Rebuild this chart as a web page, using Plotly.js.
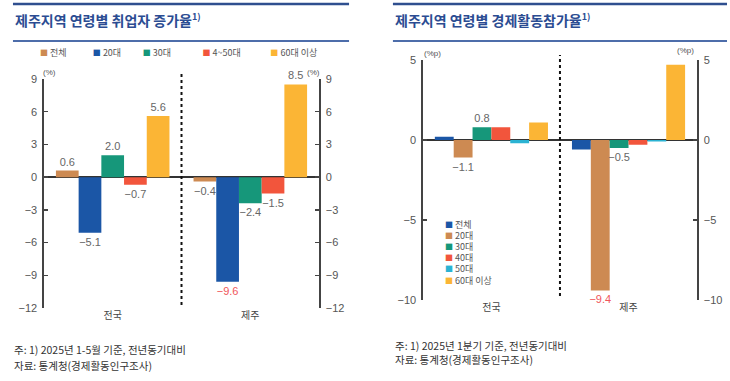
<!DOCTYPE html>
<html><head><meta charset="utf-8">
<script src="https://cdn.plot.ly/plotly-3.0.1.min.js"></script>
<style>html,body{margin:0;padding:0;background:#fff}#chart{width:730px;height:381px}</style>
</head><body><div id="chart"></div>
<script>
// ---------- data ----------
const regions = ['전국', '제주'];

// Left chart: 연령별 취업자 증가율 (%)
const empSeries = ['전체', '20대', '30대', '4~50대', '60대 이상'];
const empTotal = [0.6, -0.4];
const emp20 = [-5.1, -9.6];
const emp30 = [2.0, -2.4];
const emp4050 = [-0.7, -1.5];
const emp60 = [5.6, 8.5];
const empTicks = [-12, -9, -6, -3, 0, 3, 6, 9];

// Right chart: 연령별 경제활동참가율 변화 (%p)
const partSeries = ['전체', '20대', '30대', '40대', '50대', '60대 이상'];
const partTotal = [0.2, -0.6];
const part20 = [-1.1, -9.4];
const part30 = [0.8, -0.5];
const part40 = [0.8, -0.3];
const part50 = [-0.2, -0.1];
const part60 = [1.1, 4.7];
const partTicks = [-10, -5, 0, 5];
// bars whose value is printed in the right chart
const partShow20 = [true, true];
const partShow30 = [true, true];

// ---------- styling ----------
const W = 730, H = 381;
const px = x => x / W;
const py = y => 1 - y / H;
const C = {tan: '#CD8A52', blue: '#1B56A6', teal: '#16977A', red: '#F2553C', cyan: '#2BB3D3', amber: '#FBB535'};
const empColors = [C.tan, C.blue, C.teal, C.red, C.amber];
const partColors = [C.blue, C.tan, C.teal, C.red, C.cyan, C.amber];
const NUM = "'Liberation Sans', Arial, 'Noto Sans CJK KR', sans-serif";
const KR = "'Noto Sans CJK KR', 'Noto Sans', sans-serif";
const LABEL = '#666';
const HILITE = '#F0565A';

const fmt = v => (v < 0 ? '\u2212' : '') + Math.abs(v).toFixed(1);

function bar(name, vals, color, xa, ya, show, hilite) {
  const shown = vals.map((v, i) => show ? show[i] : true);
  return {
    type: 'bar', x: regions, y: vals, name: name, xaxis: xa, yaxis: ya,
    marker: {color: color, line: {width: 0}},
    text: vals.map(fmt),
    textposition: shown.map(s => s ? 'outside' : 'none'),
    constraintext: 'none', cliponaxis: false,
    textfont: {family: NUM, size: 11, color: vals.map((v, i) => hilite && hilite[i] ? HILITE : LABEL)},
    showlegend: false, hoverinfo: 'skip'
  };
}

const empVals = [empTotal, emp20, emp30, emp4050, emp60];
const partVals = [partTotal, part20, part30, part40, part50, part60];
const none = [false, false];
const traces = [];
empVals.forEach((v, i) => traces.push(bar(empSeries[i], v, empColors[i], 'x', 'y', null, i === 1 ? [false, true] : none)));
partVals.forEach((v, i) => {
  const show = i === 1 ? partShow20 : (i === 2 ? partShow30 : none);
  traces.push(bar(partSeries[i], v, partColors[i], 'x2', 'y2', show, i === 1 ? [false, true] : none));
});

// legend-only entries (one small legend per item, so each can be placed exactly);
// they sit on the right-hand mirror axes so those axes get drawn
const layoutLegends = {};
let li = 1;
function legendItem(name, color, xa, ya, sqX, cy) {
  const key = li === 1 ? 'legend' : 'legend' + li;
  traces.push({
    type: 'scatter', mode: 'markers', x: [null], y: [null], xaxis: xa, yaxis: ya,
    name: `<span style="color:${color};font-size:8px">■</span> ${name}`,
    marker: {size: 1, color: 'rgba(0,0,0,0)'}, legend: key, showlegend: true, hoverinfo: 'skip'
  });
  layoutLegends[key] = {
    x: px(sqX - 44), y: py(cy), xanchor: 'left', yanchor: 'middle',
    bgcolor: 'rgba(0,0,0,0)', borderwidth: 0, itemclick: false, itemdoubleclick: false,
    font: {family: KR, size: 9, color: '#555'}
  };
  li++;
}
const empLegX = [42, 95, 145, 205, 273];
empSeries.forEach((n, i) => legendItem(n, empColors[i], 'x', 'y3', empLegX[i], 52));
partSeries.forEach((n, i) => legendItem(n, partColors[i], 'x2', 'y4', 448, 224 + i * 11.2));

function yAxis(ticks, dom, extra) {
  return Object.assign({
    domain: dom, range: [ticks[0], ticks[ticks.length - 1]], tickvals: ticks,
    ticks: 'inside', ticklen: 4, tickwidth: 1.5, tickcolor: '#444',
    showline: true, linecolor: '#444', linewidth: 1.5,
    showgrid: false, zeroline: false, fixedrange: true,
    tickfont: {family: NUM, size: 11, color: '#555'}, ticklabelstandoff: 3
  }, extra);
}
function xAxis(dom, anchor) {
  return {
    domain: dom, anchor: anchor, type: 'category', showline: false, ticks: '', showgrid: false,
    zeroline: false, fixedrange: true, tickfont: {family: KR, size: 10, color: '#444'}
  };
}

const ldomX = [px(42), px(318)], ldomY = [py(308), py(79)];
const rdomX = [px(422), px(697)], rdomY = [py(300), py(60)];
const unit = (t, x, y) => ({text: t, xref: 'paper', yref: 'paper', x: px(x), y: py(y), xanchor: 'center', yanchor: 'middle', showarrow: false, font: {family: NUM, size: 8, color: '#555'}});
const note = (t, x, y) => ({text: t, xref: 'paper', yref: 'paper', x: px(x), y: py(y), xanchor: 'left', yanchor: 'middle', showarrow: false, font: {family: KR, size: 10.5, color: '#333'}});
const title = (t, x) => ({text: `<b>${t}</b><sup><b><span style="font-size:9px">1)</span></b></sup>`, xref: 'paper', yref: 'paper', x: px(x), y: py(20), xanchor: 'left', yanchor: 'middle', showarrow: false, font: {family: KR, size: 14, color: '#2B4C92'}});

const layout = Object.assign({
  width: W, height: H, margin: {l: 0, r: 0, t: 0, b: 0},
  paper_bgcolor: '#fff', plot_bgcolor: 'rgba(0,0,0,0)',
  barmode: 'group', bargap: 0.175, bargroupgap: 0,
  xaxis: xAxis(ldomX, 'y'),
  yaxis: yAxis(empTicks, ldomY, {anchor: 'x', zeroline: true, zerolinecolor: '#333', zerolinewidth: 1.5, layer: 'above traces'}),
  yaxis3: yAxis(empTicks, ldomY, {anchor: 'x', overlaying: 'y', side: 'right'}),
  xaxis2: xAxis(rdomX, 'y2'),
  yaxis2: yAxis(partTicks, rdomY, {anchor: 'x2', zeroline: true, zerolinecolor: '#333', zerolinewidth: 1.5, layer: 'above traces'}),
  yaxis4: yAxis(partTicks, rdomY, {anchor: 'x2', overlaying: 'y2', side: 'right'}),
  shapes: [
    {type: 'line', xref: 'paper', yref: 'paper', x0: px(11), x1: px(348), y0: py(4), y1: py(4), line: {color: '#2F4F8F', width: 2.5}},
    {type: 'line', xref: 'paper', yref: 'paper', x0: px(11), x1: px(348), y0: py(41), y1: py(41), line: {color: '#4D6DAA', width: 1.8}},
    {type: 'line', xref: 'paper', yref: 'paper', x0: px(392), x1: px(727), y0: py(4), y1: py(4), line: {color: '#2F4F8F', width: 2.5}},
    {type: 'line', xref: 'paper', yref: 'paper', x0: px(392), x1: px(727), y0: py(41), y1: py(41), line: {color: '#4D6DAA', width: 1.8}},
    {type: 'line', xref: 'x', yref: 'paper', x0: 0.5, x1: 0.5, y0: py(305), y1: py(72), line: {color: '#111', width: 2, dash: 'dot'}},
    {type: 'line', xref: 'x2', yref: 'paper', x0: 0.5, x1: 0.5, y0: py(296), y1: py(55), line: {color: '#111', width: 2, dash: 'dot'}}
  ],
  annotations: [
    title('제주지역 연령별 취업자 증가율', 11),
    title('제주지역 연령별 경제활동참가율', 392),
    unit('(%)', 48, 73), unit('(%)', 312, 73), unit('(%p)', 432, 53), unit('(%p)', 685, 51),
    note('주: 1) 2025년 1-5월 기준, 전년동기대비', 10, 349),
    note('자료: 통계청(경제활동인구조사)', 10, 365),
    note('주: 1) 2025년 1분기 기준, 전년동기대비', 392, 345),
    note('자료: 통계청(경제활동인구조사)', 392, 359)
  ]
}, layoutLegends);

Plotly.newPlot('chart', traces, layout, {displayModeBar: false, staticPlot: true});
</script></body></html>
